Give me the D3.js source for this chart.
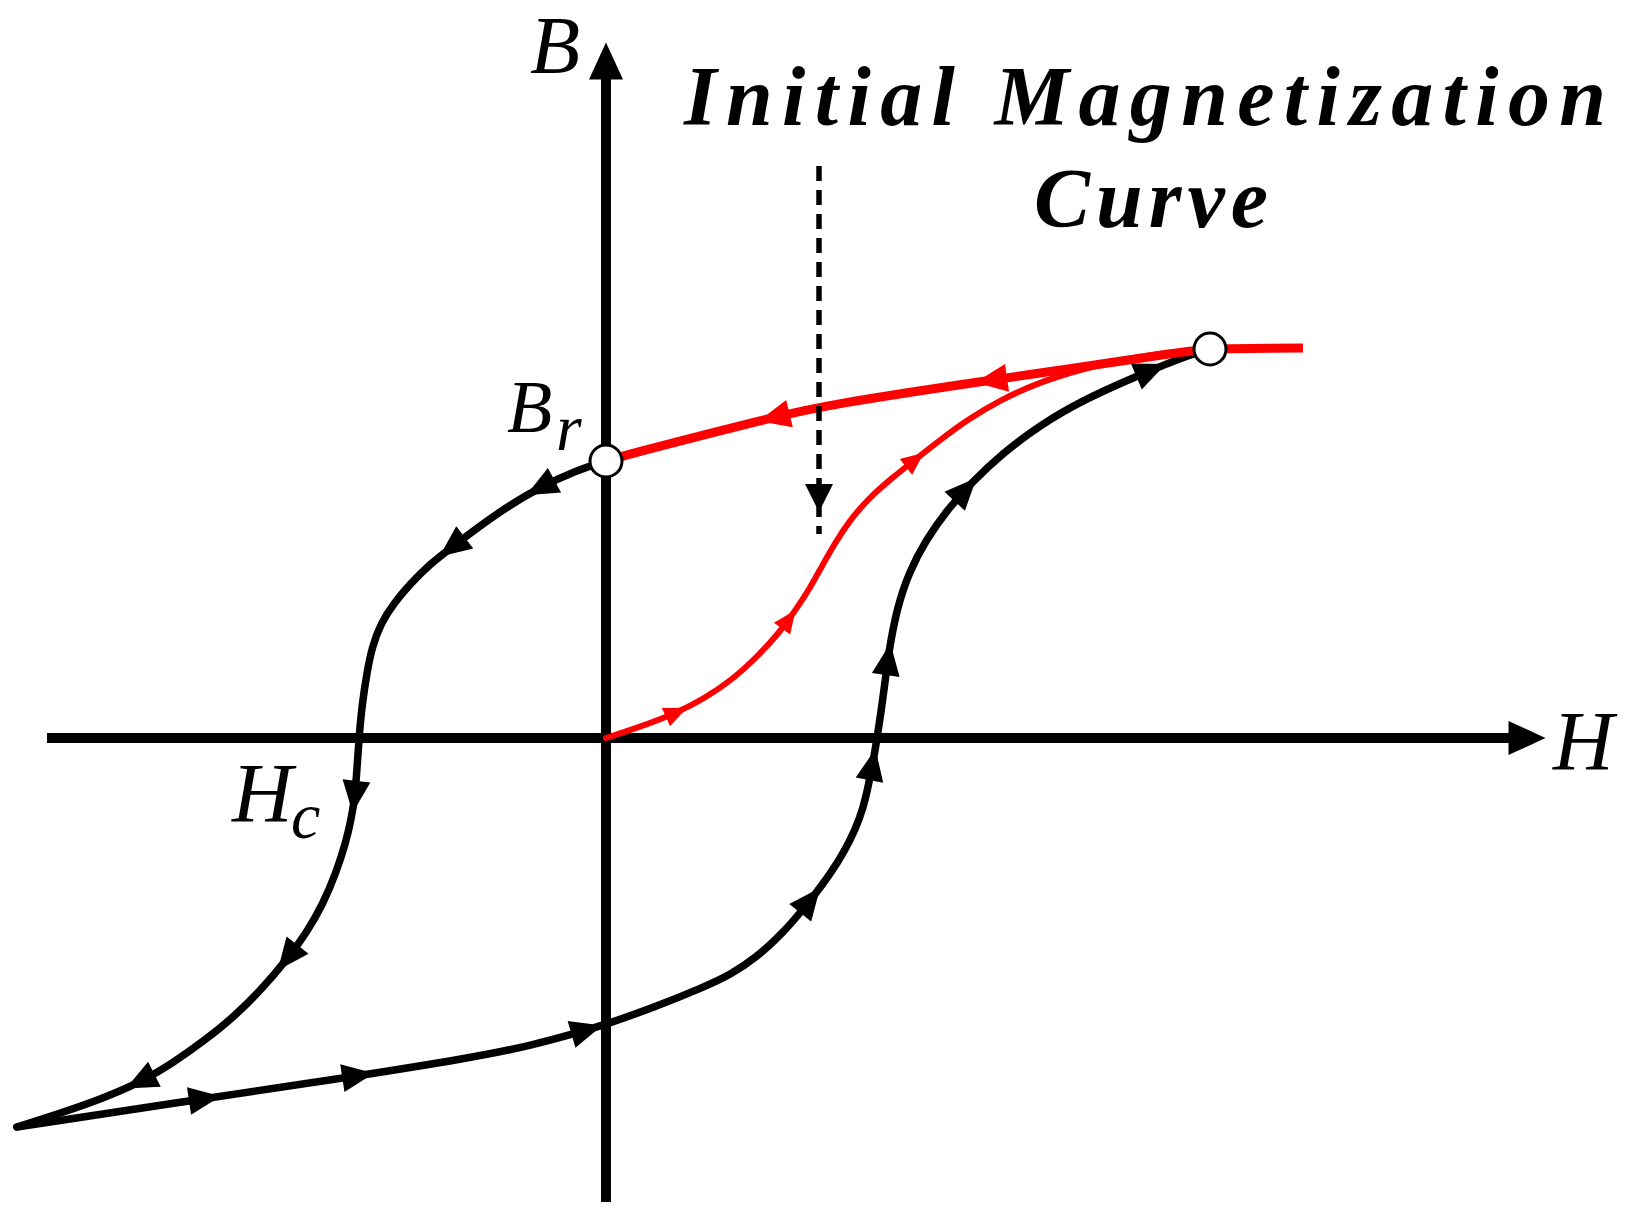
<!DOCTYPE html>
<html><head><meta charset="utf-8">
<script src="https://cdn.jsdelivr.net/npm/d3@7"></script>
<style>body{margin:0;background:#fff}</style>
</head><body>
<svg id="chart" width="1625" height="1216"></svg>
<script>
// ---- data: (H, B) in arbitrary units ----
const descendingBranch = [[0,2.77],[-0.31,2.67],[-0.66,2.51],[-1.09,2.25],[-1.54,1.91],[-1.76,1.74],[-1.95,1.55],[-2.12,1.35],[-2.25,1.15],[-2.34,0.91],[-2.39,0.66],[-2.44,0.33],[-2.47,0],[-2.49,-0.30],[-2.51,-0.59],[-2.55,-0.82],[-2.60,-1.04],[-2.70,-1.35],[-2.83,-1.66],[-2.99,-1.94],[-3.18,-2.20],[-3.44,-2.51],[-3.71,-2.78],[-4.02,-3.03],[-4.34,-3.255],[-4.65,-3.44],[-5.06,-3.615],[-5.47,-3.756],[-5.89,-3.89]];
const ascendingBranch = [[-5.89,-3.89],[-4.01,-3.605],[-2.48,-3.38],[-1.365,-3.20],[-0.76,-3.08],[-0.19,-2.92],[0.01,-2.86],[0.49,-2.69],[0.98,-2.49],[1.24,-2.37],[1.51,-2.19],[1.77,-1.95],[1.99,-1.69],[2.17,-1.46],[2.32,-1.24],[2.44,-1.03],[2.54,-0.80],[2.60,-0.59],[2.64,-0.39],[2.68,-0.19],[2.71,0],[2.75,0.26],[2.78,0.48],[2.83,0.88],[2.91,1.30],[3.03,1.66],[3.20,1.98],[3.41,2.28],[3.66,2.56],[3.97,2.85],[4.34,3.13],[4.79,3.39],[5.29,3.61],[5.74,3.80],[6.04,3.89]];
const returnBranch = [[6.04,3.89],[5.74,3.86],[4.56,3.68],[3.85,3.58],[2.20,3.33],[1.68,3.21],[0.31,2.86],[0,2.77]];
const saturationTail = [[6.04,3.89],[6.97,3.90]];
const initialCurve = [[0,0],[0.31,0.10],[0.71,0.25],[0.99,0.40],[1.26,0.58],[1.52,0.82],[1.74,1.06],[1.91,1.30],[2.04,1.50],[2.16,1.72],[2.29,1.95],[2.44,2.18],[2.63,2.40],[2.86,2.60],[3.10,2.79],[3.34,2.98],[3.61,3.18],[3.94,3.38],[4.34,3.56],[4.79,3.70],[5.29,3.81],[5.74,3.87],[6.04,3.89]];
const markedPoints = [[0,2.77],[6.04,3.89]];
// arrow locations along each curve (H, B)
const descendingArrows = [[-0.66,2.51],[-1.54,1.91],[-2.51,-0.59],[-3.18,-2.20],[-4.65,-3.45]];
const ascendingArrows = [[-4.01,-3.60],[-2.48,-3.38],[-0.19,-2.93],[2.04,-1.62],[2.68,-0.27],[2.83,0.79],[3.57,2.51],[5.45,3.68]];
const initialArrows = [[0.71,0.25],[1.84,1.18],[3.09,2.78]];
const returnArrows = [[3.85,3.58],[1.68,3.21]];
// axes extents
const hAxisExtent = [-5.59, 9.39];
const bAxisExtent = [-4.64, 6.95];
// annotation arrow (H, B from -> to)
const annotationArrow = [[2.13,5.72],[2.13,2.26]];
const titleLines = ["Initial Magnetization","Curve"];

// ---- scales ----
const x = d3.scaleLinear().domain([-6, 10]).range([6, 1606]);
const y = d3.scaleLinear().domain([-5, 7]).range([1238, 38]);
const svg = d3.select("#chart");
const line = d3.line().x(d=>x(d[0])).y(d=>y(d[1])).curve(d3.curveBasis);

function tri(g, cx, cy, ang, len, hw, color){
  g.append("path")
   .attr("d", `M${len/2},0 L${-len/2},${-hw} L${-len/2},${hw} Z`)
   .attr("fill", color)
   .attr("transform", `translate(${cx},${cy}) rotate(${ang})`);
}
function drawCurve(data, color, width, arrows, alen, ahw){
  const p = svg.append("path").datum(data).attr("d", line)
    .attr("fill","none").attr("stroke",color).attr("stroke-width",width)
    .attr("stroke-linecap","round").attr("stroke-linejoin","round");
  const node = p.node(), total = node.getTotalLength();
  arrows.forEach(([h,b])=>{
    const tx = x(h), ty = y(b);
    let best=0, bd=Infinity;
    for(let l=0;l<=total;l+=0.5){const q=node.getPointAtLength(l);const d=(q.x-tx)**2+(q.y-ty)**2;if(d<bd){bd=d;best=l;}}
    const p0=node.getPointAtLength(Math.max(0,best-5)), p1=node.getPointAtLength(Math.min(total,best+5));
    const ang=Math.atan2(p1.y-p0.y,p1.x-p0.x)*180/Math.PI;
    const c=node.getPointAtLength(best);
    tri(svg, c.x, c.y, ang, alen, ahw, color);
  });
}

// ---- axes ----
const axisW = 10;
svg.append("line").attr("x1",x(hAxisExtent[0])).attr("x2",x(hAxisExtent[1])-30)
  .attr("y1",y(0)).attr("y2",y(0)).attr("stroke","#000").attr("stroke-width",axisW);
tri(svg, x(hAxisExtent[1])-18, y(0), 0, 37, 17, "#000");
svg.append("line").attr("x1",x(0)).attr("x2",x(0))
  .attr("y1",y(bAxisExtent[0])).attr("y2",y(bAxisExtent[1])+30).attr("stroke","#000").attr("stroke-width",axisW);
tri(svg, x(0), y(bAxisExtent[1])+18, -90, 37, 17, "#000");

// ---- curves ----
drawCurve(descendingBranch, "#000", 7.5, descendingArrows, 32, 14);
drawCurve(ascendingBranch, "#000", 7.5, ascendingArrows, 32, 14);
drawCurve(initialCurve, "#ff0000", 6, initialArrows, 23, 10);
drawCurve(returnBranch, "#ff0000", 9, returnArrows, 32, 14);
svg.append("path").datum(saturationTail).attr("d", d3.line().x(d=>x(d[0])).y(d=>y(d[1])))
  .attr("stroke","#ff0000").attr("stroke-width",9).attr("fill","none");

// circles
svg.selectAll("circle.pt").data(markedPoints).join("circle").attr("class","pt")
  .attr("cx",d=>x(d[0])).attr("cy",d=>y(d[1])).attr("r",16)
  .attr("fill","#fff").attr("stroke","#000").attr("stroke-width",3);

// annotation dashed arrow
svg.append("line").attr("x1",x(annotationArrow[0][0])).attr("x2",x(annotationArrow[1][0]))
  .attr("y1",y(annotationArrow[0][1])).attr("y2",y(annotationArrow[1][1])+22)
  .attr("stroke","#000").attr("stroke-width",5.5).attr("stroke-dasharray","15,9");
tri(svg, x(annotationArrow[1][0]), y(annotationArrow[1][1])-14, 90, 28, 14, "#000");

// ---- labels ----
const serif = "'Liberation Serif', 'Times New Roman', serif";
function lbl(t, px, py, size, opts={}){
  return svg.append("text").attr("x",px).attr("y",py).text(t)
    .attr("font-family",serif).attr("font-style","italic").attr("font-size",size)
    .attr("font-weight",opts.bold?"bold":"normal").attr("fill","#000")
    .attr("text-anchor",opts.anchor||"start");
}
lbl("B", 530, 73, 82);
lbl("H", 1553, 770, 84);
lbl("B", 507, 432, 74);
lbl("r", 556, 450, 66);
lbl("H", 232, 822, 84);
lbl("c", 291, 838, 66);
lbl(titleLines[0], 1145, 125, 84, {bold:true, anchor:"middle"}).attr("textLength",922).attr("lengthAdjust","spacing");
lbl(titleLines[1], 1151, 227, 84, {bold:true, anchor:"middle"}).attr("textLength",234).attr("lengthAdjust","spacing");
</script>
</body></html>
